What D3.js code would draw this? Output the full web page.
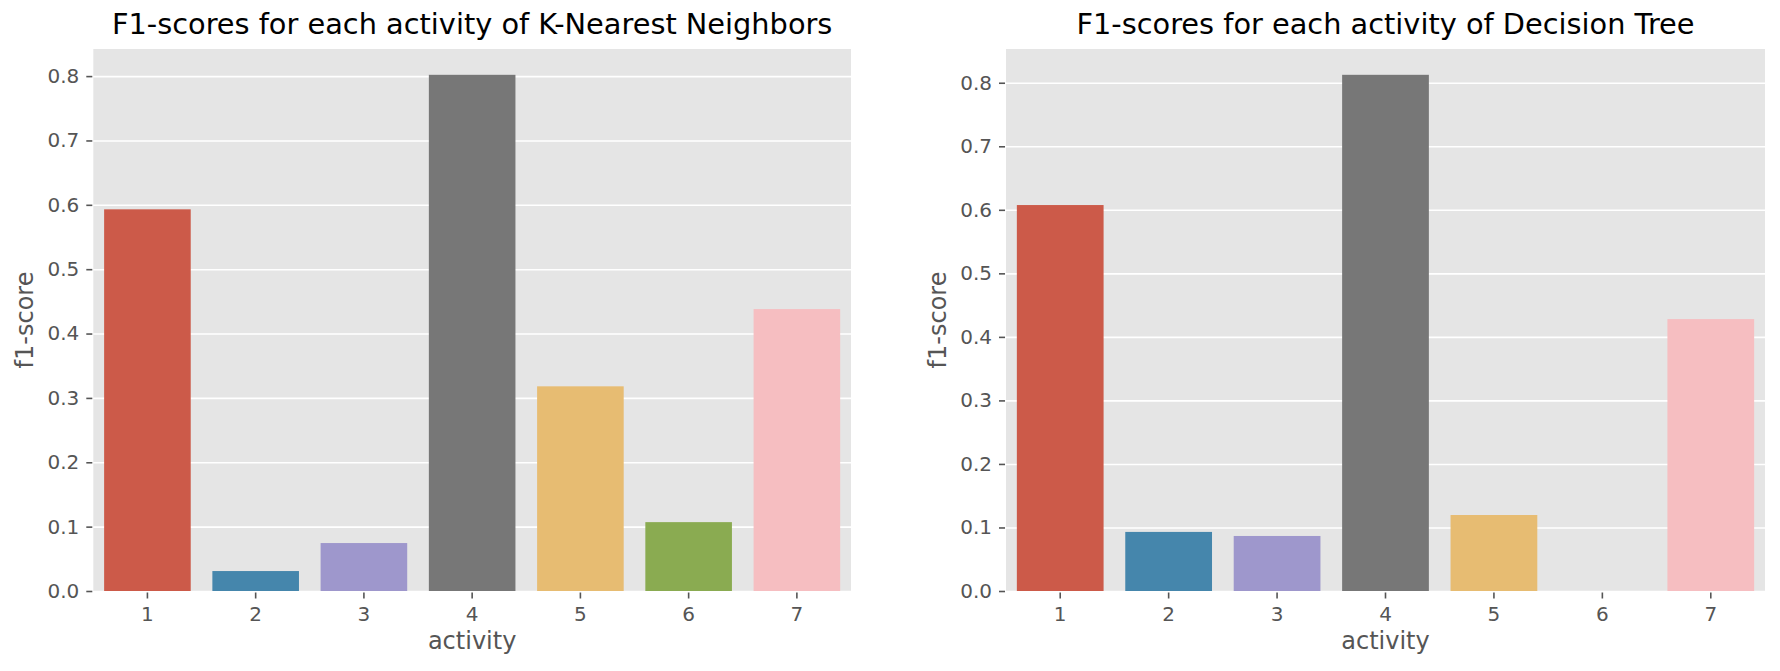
<!DOCTYPE html>
<html>
<head>
<meta charset="utf-8">
<script src="https://cdn.jsdelivr.net/npm/d3@7"></script>
<style>
  body { margin: 0; background: white; }
  svg { display: block; font-family: "DejaVu Sans", sans-serif; }
</style>
</head>
<body>
<svg width="1780" height="671"></svg>
<script>
// data
const activities = ["1", "2", "3", "4", "5", "6", "7"];
const knnScores = [0.593, 0.031, 0.0745, 0.802, 0.318, 0.107, 0.438];
const treeScores = [0.6075, 0.093, 0.0866, 0.8125, 0.1196, 0.0, 0.428];
const yTicks = [0.0, 0.1, 0.2, 0.3, 0.4, 0.5, 0.6, 0.7, 0.8];
const titles = ["F1-scores for each activity of K-Nearest Neighbors",
                "F1-scores for each activity of Decision Tree"];

// ggplot palette, desaturated like seaborn does it
const colors = ["#cc5a49", "#4586ac", "#9e97cc", "#777777", "#e7bc72", "#8aab51", "#f6bec1"];

// panel boxes
const plotTop = 49, plotBottom = 591;
const panels = [
  { left: 93.3, right: 851, values: knnScores, title: titles[0] },
  { left: 1006, right: 1765, values: treeScores, title: titles[1] }
];

const svg = d3.select("svg");

panels.forEach(function(p) {
  const w = p.right - p.left, h = plotBottom - plotTop;

  const x = d3.scaleBand()
    .domain(activities)
    .range([0, w])
    .paddingInner(0.2)
    .paddingOuter(0.1);

  // seaborn leaves a 5% margin above the tallest bar
  const y = d3.scaleLinear()
    .domain([0, d3.max(p.values) * 1.05])
    .range([h, 0]);

  const g = svg.append("g")
    .attr("transform", "translate(" + p.left + "," + plotTop + ")");

  // grey background
  g.append("rect")
    .attr("width", w)
    .attr("height", h)
    .attr("fill", "#e5e5e5");

  // horizontal grid lines
  g.append("g")
    .call(d3.axisLeft(y).tickValues(yTicks).tickSize(-w).tickFormat(""))
    .call(s => s.select(".domain").remove())
    .selectAll("line")
      .attr("stroke", "white")
      .attr("stroke-width", 1.6);

  // bars
  g.selectAll("rect.bar")
    .data(p.values)
    .join("rect")
      .attr("class", "bar")
      .attr("x", (d, i) => x(activities[i]))
      .attr("y", d => y(d))
      .attr("width", x.bandwidth())
      .attr("height", d => h - y(d))
      .attr("fill", (d, i) => colors[i]);

  // y axis
  const ya = g.append("g")
    .attr("transform", "translate(-1,0)")
    .call(d3.axisLeft(y).tickValues(yTicks).tickFormat(d3.format(".1f")).tickSize(6).tickPadding(7));
  ya.select(".domain").remove();
  ya.selectAll("line").attr("stroke", "#555555").attr("stroke-width", 1.6);
  ya.selectAll("text")
    .attr("fill", "#555555")
    .style("font-size", "20px")
    .style("font-family", "DejaVu Sans");

  // x axis
  const xa = g.append("g")
    .attr("transform", "translate(0," + (h + 1.5) + ")")
    .call(d3.axisBottom(x).tickSize(6).tickPadding(8));
  xa.select(".domain").remove();
  xa.selectAll("line").attr("stroke", "#555555").attr("stroke-width", 1.6);
  xa.selectAll("text")
    .attr("fill", "#555555")
    .style("font-size", "20px")
    .style("font-family", "DejaVu Sans");

  // axis labels
  g.append("text")
    .attr("x", w / 2)
    .attr("y", h + 58)
    .attr("text-anchor", "middle")
    .attr("fill", "#555555")
    .style("font-size", "24px")
    .text("activity");

  g.append("text")
    .attr("transform", "translate(" + (-60) + "," + (h / 2) + ") rotate(-90)")
    .attr("text-anchor", "middle")
    .attr("fill", "#555555")
    .style("font-size", "24px")
    .text("f1-score");

  // title
  g.append("text")
    .attr("x", w / 2)
    .attr("y", -15)
    .attr("text-anchor", "middle")
    .attr("fill", "black")
    .style("font-size", "28.8px")
    .text(p.title);
});
</script>
</body>
</html>
